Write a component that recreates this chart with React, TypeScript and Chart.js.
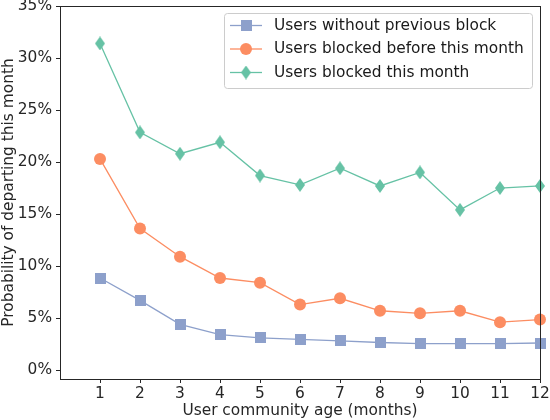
import { useEffect, useRef } from 'react';
import { Chart, registerables, type ChartConfiguration } from 'chart.js';

Chart.register(...registerables);

// month of community age
const months = [1, 2, 3, 4, 5, 6, 7, 8, 9, 10, 11, 12];
// probability of departing (%)
const withoutBlock = [8.85, 6.7, 4.4, 3.4, 3.1, 2.95, 2.8, 2.65, 2.55, 2.55, 2.55, 2.6];
const blockedBefore = [20.3, 13.6, 10.9, 8.85, 8.4, 6.3, 6.9, 5.7, 5.45, 5.7, 4.6, 4.85];
const blockedThisMonth = [31.4, 22.85, 20.8, 21.9, 18.7, 17.8, 19.4, 17.7, 19.0, 15.4, 17.5, 17.7];
const yTicks = [0, 5, 10, 15, 20, 25, 30, 35];
const seriesLabels = ['Users without previous block', 'Users blocked before this month', 'Users blocked this month'];
const seriesColors = ['#8da0cb', '#fc8d62', '#66c2a5'];

const FONT = "'DejaVu Sans', sans-serif";
const SIZE = 15.4;

function squareMarker(color: string) {
    const c = document.createElement('canvas');
    c.width = 11;
    c.height = 11;
    const ctx = c.getContext('2d')!;
    ctx.fillStyle = color;
    ctx.fillRect(0, 0, 11, 11);
    return c;
}

function diamondMarker(color: string) {
    const c = document.createElement('canvas');
    c.width = 10;
    c.height = 14;
    const ctx = c.getContext('2d')!;
    ctx.fillStyle = color;
    ctx.beginPath();
    ctx.moveTo(5, 0);
    ctx.lineTo(10, 7);
    ctx.lineTo(5, 14);
    ctx.lineTo(0, 7);
    ctx.closePath();
    ctx.fill();
    return c;
}

export default function App() {
    const chartRef = useRef<HTMLCanvasElement>(null);

    useEffect(() => {
        if (!chartRef.current) return;

        const markers: any[] = [squareMarker(seriesColors[0]), 'circle', diamondMarker(seriesColors[2])];
        const values = [withoutBlock, blockedBefore, blockedThisMonth];

        const framePlugin = {
            id: 'frameAndLegend',
            afterDraw(chart: any) {
                const { ctx, chartArea } = chart;
                ctx.save();
                ctx.strokeStyle = '#262626';
                ctx.lineWidth = 1;
                ctx.strokeRect(chartArea.left + 0.5, chartArea.top + 0.5,
                    chartArea.right - chartArea.left, chartArea.bottom - chartArea.top);

                // legend box, upper right
                const bx = 224, by = 13, bw = 308, bh = 75;
                ctx.beginPath();
                ctx.roundRect(bx + 0.5, by + 0.5, bw, bh, 3);
                ctx.fillStyle = 'rgba(255,255,255,0.8)';
                ctx.fill();
                ctx.strokeStyle = '#cccccc';
                ctx.stroke();

                ctx.font = `${SIZE}px ${FONT}`;
                ctx.textBaseline = 'middle';
                seriesLabels.forEach((label, i) => {
                    const y = 25.5 + i * 23.5;
                    ctx.strokeStyle = seriesColors[i];
                    ctx.lineWidth = 1.3;
                    ctx.beginPath();
                    ctx.moveTo(230, y);
                    ctx.lineTo(262, y);
                    ctx.stroke();
                    const m = markers[i];
                    if (m === 'circle') {
                        ctx.fillStyle = seriesColors[i];
                        ctx.beginPath();
                        ctx.arc(246, y, 6, 0, Math.PI * 2);
                        ctx.fill();
                    } else {
                        ctx.drawImage(m, 246 - m.width / 2, y - m.height / 2);
                    }
                    ctx.fillStyle = '#1a1a1a';
                    ctx.fillText(label, 274, y);
                });
                ctx.restore();
            }
        };

        const config = {
            type: 'line',
            data: {
                datasets: seriesLabels.map((label, i) => ({
                    label,
                    data: months.map((m, j) => ({ x: m, y: values[i][j] })),
                    borderColor: seriesColors[i],
                    backgroundColor: seriesColors[i],
                    borderWidth: 1.3,
                    pointStyle: markers[i],
                    pointRadius: 6,
                    pointBorderWidth: 0,
                    tension: 0,
                    fill: false,
                    clip: false
                }))
            },
            options: {
                responsive: true,
                maintainAspectRatio: false,
                animation: false,
                layout: { padding: { top: 5, right: 10, left: 0, bottom: 0 } },
                plugins: {
                    legend: { display: false },
                    tooltip: { enabled: false }
                },
                scales: {
                    x: {
                        type: 'linear',
                        min: 0,
                        max: 12,
                        afterBuildTicks: (scale: any) => {
                            scale.ticks = months.map((v) => ({ value: v }));
                        },
                        afterFit: (scale: any) => {
                            scale.height = 41;
                            scale.paddingLeft = 0;
                            scale.paddingRight = 0;
                        },
                        grid: { drawOnChartArea: false, drawTicks: true, tickLength: 4, color: '#262626' },
                        border: { display: false },
                        ticks: {
                            color: '#262626',
                            padding: 2,
                            maxRotation: 0,
                            font: { family: FONT, size: SIZE }
                        },
                        title: {
                            display: true,
                            text: 'User community age (months)',
                            color: '#262626',
                            padding: { top: 0, bottom: 0 },
                            font: { family: FONT, size: SIZE }
                        }
                    },
                    y: {
                        type: 'linear',
                        min: -0.86,
                        max: 35,
                        afterBuildTicks: (scale: any) => {
                            scale.ticks = yTicks.map((v) => ({ value: v }));
                        },
                        afterFit: (scale: any) => {
                            scale.width = 60;
                            scale.paddingTop = 0;
                            scale.paddingBottom = 0;
                        },
                        grid: { drawOnChartArea: false, drawTicks: true, tickLength: 4, color: '#262626' },
                        border: { display: false },
                        ticks: {
                            color: '#262626',
                            padding: 4,
                            font: { family: FONT, size: SIZE },
                            callback: (v: any) => `${v}%`
                        },
                        title: {
                            display: true,
                            text: 'Probability of departing this month',
                            color: '#262626',
                            padding: { top: 0, bottom: 0 },
                            font: { family: FONT, size: SIZE }
                        }
                    }
                }
            },
            plugins: [framePlugin]
        };

        const chart = new Chart(chartRef.current, config as unknown as ChartConfiguration);
        return () => {
            chart.destroy();
        };
    }, []);

    return (
        <div style={{ position: 'absolute', left: 0, top: 0, width: 550, height: 420, background: '#fff' }}>
            <canvas ref={chartRef}></canvas>
        </div>
    );
}
